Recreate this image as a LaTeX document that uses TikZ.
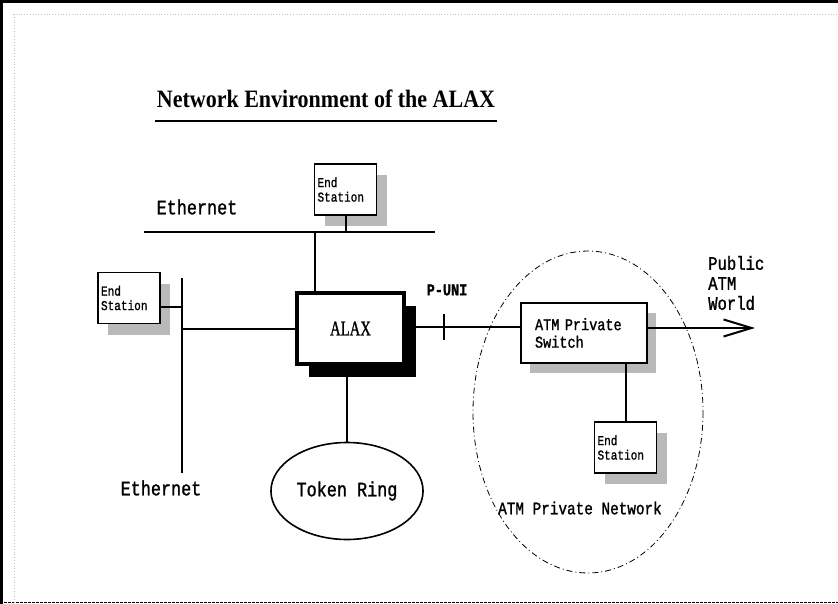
\documentclass[tikz,border=0pt]{standalone}
\usepackage{fontspec}
\usepackage{tikz}
\usetikzlibrary{positioning,shapes.geometric,shadows,arrows.meta}
\setmainfont{Liberation Serif}
\newfontfamily\condmono[FakeStretch=0.82, FakeBold=1.2]{Liberation Mono}
\newfontfamily\condserif[FakeStretch=0.7, FakeBold=1]{Liberation Serif}
\newfontfamily\titleserif[FakeStretch=0.88]{Liberation Serif}

\begin{document}
\begin{tikzpicture}[x=1pt,y=-1pt,
    wire/.style={line width=2pt},
    station/.style={draw, line width=1.6pt, fill=white, minimum width=62, minimum height=51,
        text width=56, inner sep=2pt, align=left, font=\condmono\fontsize{13.5}{14.5}\selectfont,
        drop shadow={shadow xshift=10pt, shadow yshift=-11pt, fill=gray!55, opacity=1}},
    label/.style={font=\condmono\fontsize{20.5}{22}\selectfont, inner sep=0pt}]
    \useasboundingbox (0,0) rectangle (838,604);

    % page frame
    \draw[line width=3pt] (1.5,604) -- (1.5,1.5) -- (838,1.5);
    \draw[line width=1.5pt, dash pattern=on 3pt off 1pt] (0,602.5) -- (838,602.5);
    \draw[gray!50, line width=0.8pt, dotted] (13,14) -- (838,14);
    \draw[gray!50, line width=0.8pt, dotted] (14,14) -- (14,604);

    % title
    \node[font=\titleserif\bfseries\fontsize{25}{28}\selectfont] (title) at (326,99) {Network Environment of the ALAX};
    \draw[line width=1.5pt] (155,121) -- (497,121);

    % boxes
    \node[draw, line width=3.5pt, fill=white, minimum width=107, minimum height=71,
        font=\condserif\fontsize{21}{24}\selectfont,
        drop shadow={shadow xshift=12pt, shadow yshift=-13pt, fill=black, opacity=1}] (alax) at (350.5,328.5) {ALAX};
    \node[draw, line width=1.6pt, fill=white, minimum width=126, minimum height=60,
        text width=98, align=left, font=\condmono\fontsize{16.5}{17.5}\selectfont,
        drop shadow={shadow xshift=9pt, shadow yshift=-10pt, fill=gray!55, opacity=1}] (switch) at (584,333) {ATM Private\\Switch};
    \node[station] (topstation) at (345.5,189.5) {End\\Station};
    \node[station] (leftstation) at (129,298) {End\\Station};
    \node[station] (atmstation) at (625.5,447.5) {End\\Station};
    \node[draw, ellipse, line width=1.6pt, minimum width=136, minimum height=97,
        font=\condmono\fontsize{20.5}{22}\selectfont] (ring) at (347,491) {Token Ring};

    % ethernets
    \coordinate (etha) at (144,232);
    \coordinate (ethb) at (435,232);
    \coordinate (ethc) at (182,278);
    \coordinate (ethd) at (182,473);
    \coordinate (tap) at (315,232);
    \draw[wire] (etha) -- (ethb);
    \draw[wire] (ethc) -- (ethd);
    \node[label] (ethtop) at (197,207) {Ethernet};
    \node[label] (ethbot) at (161,488) {Ethernet};

    \draw[wire] (topstation.south) -- (topstation.south |- etha);
    \draw[wire] (tap) -- (tap |- alax.north);
    \draw[wire] ([yshift=-9pt]leftstation.east) -- ([yshift=-9pt]leftstation.east -| ethc);
    \draw[wire] (alax.west -| ethc) -- (alax.west);
    \draw[wire] (ring.north) -- (ring.north |- alax.south);

    % P-UNI link
    \coordinate (uni) at (444,327);
    \draw[wire] (alax.east |- uni) -- (switch.west |- uni);
    \draw[wire] ([yshift=13pt]uni) -- ([yshift=-13pt]uni);
    \node[font=\condmono\bfseries\fontsize{16.5}{20}\selectfont] (unilbl) at (447,290) {P-UNI};

    % ATM private network
    \draw[line width=0.8pt, dash pattern=on 6pt off 3pt on 1pt off 3pt] (588,412) ellipse [x radius=115, y radius=161];
    \node[label, font=\condmono\fontsize{17.5}{20}\selectfont] (netlbl) at (580,508) {ATM Private Network};
    \draw[wire] (atmstation.north) -- (atmstation.north |- switch.south);

    \coordinate (world) at (755,328);
    \draw[wire, -{Straight Barb[length=28pt, width=17pt, line width=2pt]}] (switch.east |- world) -- (world);
    \node[label, anchor=west, align=left, font=\condmono\fontsize{19}{20}\selectfont] (public) at (708,283) {Public\\ATM\\World};
\end{tikzpicture}
\end{document}
